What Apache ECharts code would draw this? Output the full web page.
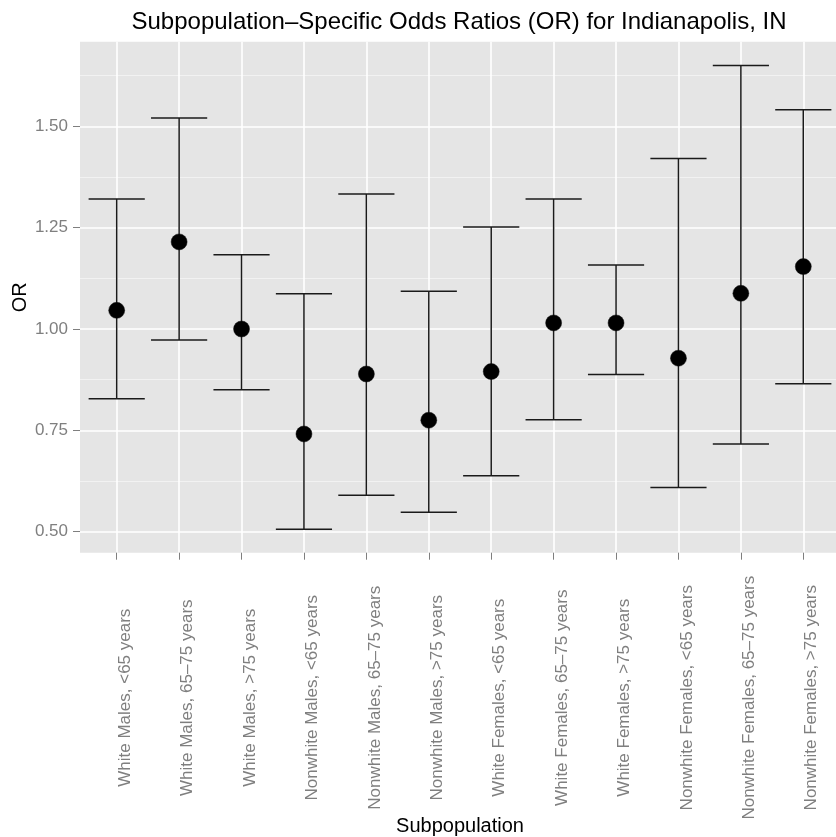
<!DOCTYPE html>
<html>
<head>
<meta charset="utf-8">
<script src="https://cdn.jsdelivr.net/npm/echarts@6/dist/echarts.min.js"></script>
<style>
  html, body { margin: 0; padding: 0; background: #ffffff; }
  #chart { width: 836px; height: 837px; }
</style>
</head>
<body>
<div id="chart"></div>
<script>
// Subpopulation odds ratios with 95% confidence intervals
const categories = [
  'White Males, <65 years',
  'White Males, 65\u201375 years',
  'White Males, >75 years',
  'Nonwhite Males, <65 years',
  'Nonwhite Males, 65\u201375 years',
  'Nonwhite Males, >75 years',
  'White Females, <65 years',
  'White Females, 65\u201375 years',
  'White Females, >75 years',
  'Nonwhite Females, <65 years',
  'Nonwhite Females, 65\u201375 years',
  'Nonwhite Females, >75 years'
];
const oddsRatio = [1.046, 1.215, 1.000, 0.741, 0.889, 0.775, 0.895, 1.015, 1.015, 0.928, 1.088, 1.154];
const lowerCI   = [0.828, 0.973, 0.850, 0.506, 0.590, 0.548, 0.638, 0.776, 0.888, 0.609, 0.716, 0.865];
const upperCI   = [1.321, 1.521, 1.183, 1.087, 1.333, 1.093, 1.252, 1.321, 1.158, 1.421, 1.650, 1.541];

const majorTicks = [0.5, 0.75, 1.0, 1.25, 1.5];
const minorTicks = [0.625, 0.875, 1.125, 1.375, 1.625];
const yMin = 0.448;
const yMax = 1.709;

const FONT = 'Liberation Sans, Arial, Helvetica, sans-serif';
const GREY = '#7f7f7f';
const PANEL = { top: 41.7, bottom: 284.3 };

const chart = echarts.init(document.getElementById('chart'), null, { renderer: 'canvas' });

chart.setOption({
  backgroundColor: '#ffffff',
  animation: false,
  title: {
    text: 'Subpopulation\u2013Specific Odds Ratios (OR) for Indianapolis, IN',
    left: 459,
    top: 10,
    padding: 0,
    textAlign: 'center',
    textStyle: { fontFamily: FONT, fontSize: 24, fontWeight: 'normal', color: '#000000' }
  },
  grid: [
    // grey panel with the horizontal grid
    { left: 80, right: 0, top: PANEL.top, bottom: PANEL.bottom, show: true,
      backgroundColor: '#e5e5e5', borderWidth: 0, outerBoundsMode: 'none' },
    // category positions (first and last category sit 0.6 band inside the panel)
    { left: 116.7, right: 32.7, top: PANEL.top, bottom: PANEL.bottom, show: false,
      outerBoundsMode: 'none' }
  ],
  xAxis: [
    { gridIndex: 0, type: 'value', show: false, min: 0, max: 1 },
    {
      gridIndex: 1,
      type: 'category',
      data: categories,
      boundaryGap: false,
      axisLine: { show: false },
      axisTick: { show: true, length: 7, lineStyle: { color: GREY, width: 1 } },
      axisLabel: {
        interval: 0,
        rotate: 90,
        align: 'center',
        verticalAlign: 'top',
        margin: 145,
        fontFamily: FONT,
        fontSize: 17,
        color: GREY
      },
      splitLine: { show: true, lineStyle: { color: '#ffffff', width: 1.6 } },
      name: 'Subpopulation',
      nameLocation: 'middle',
      nameGap: 264,
      nameMoveOverlap: false,
      nameTextStyle: { fontFamily: FONT, fontSize: 20, color: '#000000' }
    }
  ],
  yAxis: [
    {
      gridIndex: 0,
      type: 'value',
      min: yMin,
      max: yMax,
      axisLine: { show: false },
      axisTick: { show: true, length: 7, customValues: majorTicks, lineStyle: { color: GREY, width: 1 } },
      axisLabel: {
        customValues: majorTicks,
        formatter: (v) => v.toFixed(2),
        margin: 12,
        fontFamily: FONT,
        fontSize: 17,
        color: GREY
      },
      splitLine: { show: true, lineStyle: { color: '#ffffff', width: 1.6 } },
      name: 'OR',
      nameLocation: 'middle',
      nameRotate: 90,
      nameGap: 50,
      nameMoveOverlap: false,
      nameTextStyle: { fontFamily: FONT, fontSize: 20, color: '#000000' }
    },
    {
      gridIndex: 0,
      type: 'value',
      min: yMin,
      max: yMax,
      axisLine: { show: false },
      axisTick: { show: false, customValues: minorTicks },
      axisLabel: { show: false },
      splitLine: { show: true, lineStyle: { color: '#f2f2f2', width: 1 } }
    },
    { gridIndex: 1, type: 'value', min: yMin, max: yMax, show: false }
  ],
  series: [
    {
      type: 'custom',
      name: 'CI',
      xAxisIndex: 1,
      yAxisIndex: 2,
      data: categories.map((c, i) => [i, lowerCI[i], upperCI[i]]),
      encode: { x: 0, y: [1, 2] },
      renderItem: function (params, api) {
        const i = api.value(0);
        const lo = api.coord([i, api.value(1)]);
        const hi = api.coord([i, api.value(2)]);
        const half = api.size([1, 0])[0] * 0.45;
        const style = { stroke: '#1a1a1a', lineWidth: 1.5 };
        return {
          type: 'group',
          children: [
            { type: 'line', shape: { x1: lo[0], y1: lo[1], x2: hi[0], y2: hi[1] }, style },
            { type: 'line', shape: { x1: hi[0] - half, y1: hi[1], x2: hi[0] + half, y2: hi[1] }, style },
            { type: 'line', shape: { x1: lo[0] - half, y1: lo[1], x2: lo[0] + half, y2: lo[1] }, style }
          ]
        };
      },
      z: 2
    },
    {
      type: 'scatter',
      name: 'OR',
      xAxisIndex: 1,
      yAxisIndex: 2,
      data: oddsRatio,
      symbol: 'circle',
      symbolSize: 16,
      itemStyle: { color: '#000000', borderColor: '#111111', borderWidth: 0.5, opacity: 1 },
      z: 3
    }
  ]
});
</script>
</body>
</html>
